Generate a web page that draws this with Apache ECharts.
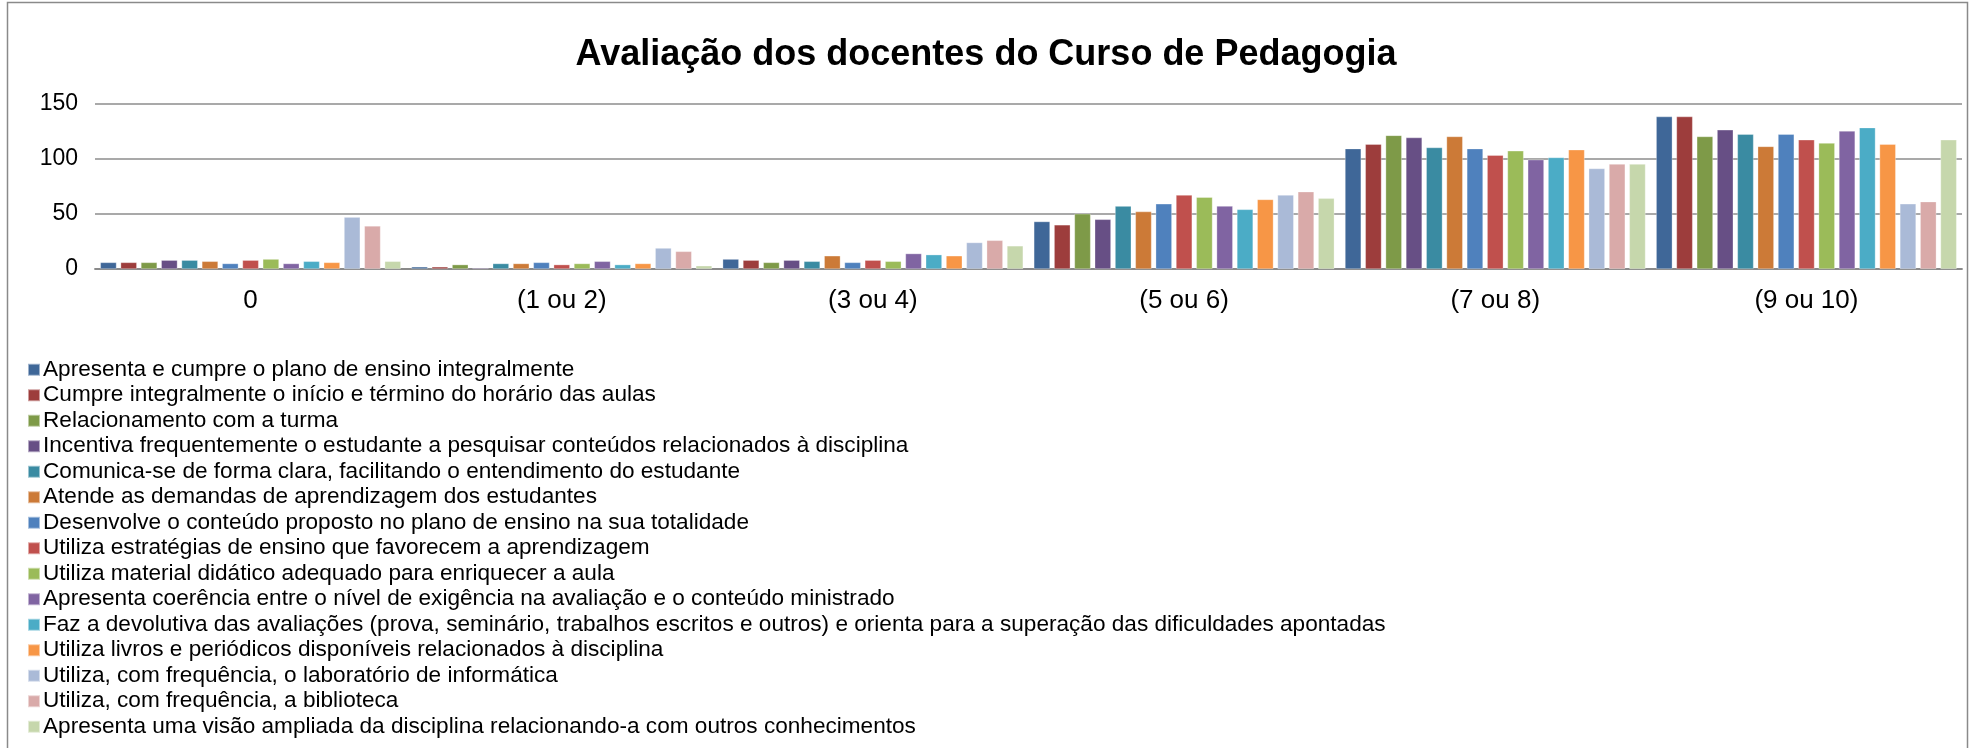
<!DOCTYPE html>
<html>
<head>
<meta charset="utf-8">
<title>Avaliação dos docentes do Curso de Pedagogia</title>
<script src="https://cdn.jsdelivr.net/npm/echarts@6/dist/echarts.min.js"></script>
<style>
    html, body { margin: 0; padding: 0; background: #fff; }
    #chart { width: 1972px; height: 748px; }
</style>
</head>
<body>
<div id="chart"></div>
<script>
// categorias (notas)
const categories = ['0', '(1 ou 2)', '(3 ou 4)', '(5 ou 6)', '(7 ou 8)', '(9 ou 10)'];

const seriesNames = [
    'Apresenta e cumpre o plano de ensino integralmente',
    'Cumpre integralmente o início e término do horário das aulas',
    'Relacionamento com a turma',
    'Incentiva frequentemente o estudante a pesquisar conteúdos relacionados à disciplina',
    'Comunica-se de forma clara, facilitando o entendimento do estudante',
    'Atende as demandas de aprendizagem dos estudantes',
    'Desenvolve o conteúdo proposto no plano de ensino na sua totalidade',
    'Utiliza estratégias de ensino que favorecem a aprendizagem',
    'Utiliza material didático adequado para enriquecer a aula',
    'Apresenta coerência entre o nível de exigência na avaliação e o conteúdo ministrado',
    'Faz a devolutiva das avaliações (prova, seminário, trabalhos escritos e outros) e orienta para a superação das dificuldades apontadas',
    'Utiliza livros e periódicos disponíveis relacionados à disciplina',
    'Utiliza, com frequência, o laboratório de informática',
    'Utiliza, com frequência, a biblioteca',
    'Apresenta uma visão ampliada da disciplina relacionando-a com outros conhecimentos'
];

// valores por item, na ordem das categorias
const planoEnsino     = [6, 2, 9, 43, 109, 138];
const horarioAulas    = [6, 2, 8, 40, 113, 138];
const relacionamento  = [6, 4, 6, 50, 121, 120];
const incentivaPesq   = [8, 1, 8, 45, 119, 126];
const comunicaClara   = [8, 5, 7, 57, 110, 122];
const atendeDemandas  = [7, 5, 12, 52, 120, 111];
const desenvolveCont  = [5, 6, 6, 59, 109, 122];
const estrategias     = [8, 4, 8, 67, 103, 117];
const materialDidat   = [9, 5, 7, 65, 107, 114];
const coerencia       = [5, 7, 14, 57, 99, 125];
const devolutiva      = [7, 4, 13, 54, 101, 128];
const livrosPeriod    = [6, 5, 12, 63, 108, 113];
const laboratorio     = [47, 19, 24, 67, 91, 59];
const biblioteca      = [39, 16, 26, 70, 95, 61];
const visaoAmpliada   = [7, 3, 21, 64, 95, 117];

const seriesValues = [
    planoEnsino, horarioAulas, relacionamento, incentivaPesq, comunicaClara,
    atendeDemandas, desenvolveCont, estrategias, materialDidat, coerencia,
    devolutiva, livrosPeriod, laboratorio, biblioteca, visaoAmpliada
];

const colors = [
    '#3F6798', '#9D3D3C', '#7E9A48', '#674F85', '#3A8BA2',
    '#CC7A37', '#4F81BD', '#C0504D', '#9BBB59', '#8064A2',
    '#4BACC6', '#F79646', '#AABAD7', '#D9AAA9', '#C6D7AC'
];

const font = '"Liberation Sans", Arial, sans-serif';

const option = {
    animation: false,
    color: colors,
    textStyle: { fontFamily: font, color: '#000' },
    title: {
        text: 'Avaliação dos docentes do Curso de Pedagogia',
        left: 'center',
        top: 32,
        textStyle: { fontFamily: font, fontSize: 36, fontWeight: 'bold', color: '#000', lineHeight: 36 }
    },
    graphic: [{
        type: 'rect',
        shape: { x: 7.5, y: 2.5, width: 1960, height: 800 },
        style: { fill: 'none', stroke: '#8a8a8a', lineWidth: 1.5 },
        silent: true
    }],
    legend: {
        orient: 'vertical',
        left: 27,
        top: 357,
        itemGap: 0,
        itemWidth: 12,
        itemHeight: 12,
        icon: 'rect',
        selectedMode: false,
        padding: 0,
        textStyle: { fontFamily: font, fontSize: 22.6, color: '#000', lineHeight: 25.5, padding: [0, 0, 0, -2] },
        data: seriesNames
    },
    grid: {
        left: 95,
        right: 10,
        top: 103.3,
        bottom: 479
    },
    xAxis: {
        type: 'category',
        data: categories,
        axisTick: { show: false },
        axisLine: { lineStyle: { color: '#8a8a8a', width: 1.8 } },
        axisLabel: { fontFamily: font, fontSize: 26, color: '#000', margin: 19 }
    },
    yAxis: {
        type: 'value',
        min: 0,
        max: 150,
        interval: 50,
        axisLine: { show: false },
        axisTick: { show: false },
        axisLabel: { fontFamily: font, fontSize: 23, color: '#000', margin: 17 },
        splitLine: { lineStyle: { color: '#8c8c8c', width: 1.5 } }
    },
    series: seriesNames.map(function (name, i) {
        return {
            name: name,
            type: 'bar',
            data: seriesValues[i],
            barGap: '25%',
            barCategoryGap: '3.4%',
            itemStyle: { borderColor: 'rgba(255,255,255,0.5)', borderWidth: 0.6 }
        };
    })
};

const chart = echarts.init(document.getElementById('chart'));
chart.setOption(option);
window.addEventListener('resize', function () { chart.resize(); });
</script>
</body>
</html>
